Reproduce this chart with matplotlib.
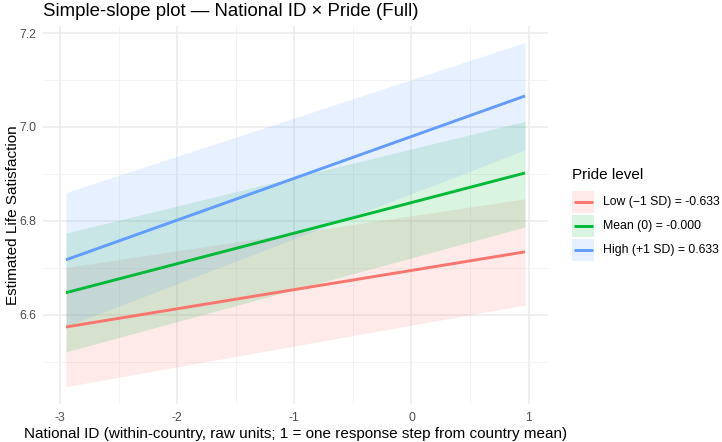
import matplotlib
matplotlib.use("Agg")
import matplotlib.pyplot as plt
import matplotlib.ticker as ticker
from matplotlib.patches import Rectangle

plt.rcParams["font.family"] = ["Liberation Sans", "DejaVu Sans"]
plt.rcParams["axes.unicode_minus"] = False

# ── Data ──────────────────────────────────────────────────────────────────────
x_ends = [-2.95, 0.97]

fit_low = [6.574, 6.734]
lo_low = [6.447, 6.621]
hi_low = [6.701, 6.847]

fit_mean = [6.647, 6.902]
lo_mean = [6.521, 6.787]
hi_mean = [6.774, 7.012]

fit_high = [6.717, 7.066]
lo_high = [6.575, 6.951]
hi_high = [6.860, 7.180]

labels = ["Low (\u22121 SD) = -0.633", "Mean (0) = -0.000", "High (+1 SD) = 0.633"]
colors = ["#F8766D", "#00BA38", "#619CFF"]

x_ticks = [-3, -2, -1, 0, 1]
y_ticks = [6.6, 6.8, 7.0, 7.2]

W, H = 722, 442

# ── Figure ────────────────────────────────────────────────────────────────────
fig = plt.figure(figsize=(W / 100, H / 100), dpi=100)
ax = fig.add_axes([43 / W, 1 - 404 / H, (548 - 43) / W, (404 - 25.5) / H])

series = [
    (fit_low, lo_low, hi_low),
    (fit_mean, lo_mean, hi_mean),
    (fit_high, lo_high, hi_high),
]
for (fit, lo, hi), c in zip(series, colors):
    ax.fill_between(x_ends, lo, hi, color=c, alpha=0.15, linewidth=0)
for (fit, lo, hi), c in zip(series, colors):
    ax.plot(x_ends, fit, color=c, linewidth=2.1, solid_capstyle="butt")

ax.set_xlim(-3.146, 1.166)
ax.set_ylim(6.410, 7.216)
ax.xaxis.set_major_locator(ticker.FixedLocator(x_ticks))
ax.yaxis.set_major_locator(ticker.FixedLocator(y_ticks))
ax.xaxis.set_minor_locator(ticker.FixedLocator([-2.5, -1.5, -0.5, 0.5]))
ax.yaxis.set_minor_locator(ticker.FixedLocator([6.5, 6.7, 6.9, 7.1]))
ax.xaxis.set_major_formatter(ticker.FuncFormatter(lambda v, p: f"{v:.0f}"))
ax.yaxis.set_major_formatter(ticker.FuncFormatter(lambda v, p: f"{v:.1f}"))

ax.grid(which="major", color="#EBEBEB", linewidth=1.1)
ax.grid(which="minor", color="#F2F2F2", linewidth=0.6)
ax.set_axisbelow(True)
for s in ax.spines.values():
    s.set_visible(False)
ax.tick_params(which="both", length=0, labelsize=8.8, labelcolor="#4D4D4D")
ax.tick_params(axis="x", pad=6)
ax.tick_params(axis="y", pad=5)

ax.set_xlabel("National ID (within-country, raw units; 1 = one response step from country mean)",
              fontsize=11, labelpad=2)
ax.set_ylabel("Estimated Life Satisfaction", fontsize=11, labelpad=-1)

fig.text(43 / W, 1 - 11 / H, "Simple-slope plot \u2014 National ID \u00d7 Pride (Full)",
         fontsize=13.4, ha="left", va="center")

# ── Legend (drawn by hand, in pixel coordinates) ──────────────────────────────
lax = fig.add_axes([0, 0, 1, 1])
lax.set_xlim(0, W)
lax.set_ylim(H, 0)
lax.axis("off")
lax.text(572, 175, "Pride level", fontsize=11, ha="left", va="center")
for i, (c, lab) in enumerate(zip(colors, labels)):
    yc = 202 + 24 * i
    lax.add_patch(Rectangle((572, yc - 11), 22, 22, facecolor=c, alpha=0.15, edgecolor="none"))
    lax.plot([573.5, 592.5], [yc, yc], color=c, linewidth=2.1, solid_capstyle="butt")
    lax.text(603, yc, lab, fontsize=8.8, ha="left", va="center")

fig.savefig("out.png", dpi=100)
